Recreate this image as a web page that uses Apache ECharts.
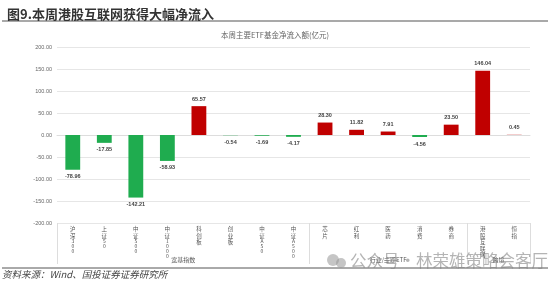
<!DOCTYPE html>
<html><head><meta charset="utf-8">
<script src="https://cdn.jsdelivr.net/npm/echarts@6/dist/echarts.min.js"></script>
<style>html,body{margin:0;padding:0;background:#fff;}#c{width:550px;height:283px;}</style>
</head><body><div id="c"></div>
<script>
const categories = ['沪深300','上证50','中证500','中证1000','科创板','创业板','中证A50','中证A500','芯片','红利','医药','消费','券商','港股互联网','恒指'];
const values = [-78.96,-17.85,-142.21,-58.93,65.57,-0.54,-1.69,-4.17,28.30,11.82,7.91,-4.56,23.50,146.04,0.45];
const groupNames = ['宽基指数','行业/主题ETF','跨境'];
const groupSizes = [8,5,2];
const yTicks = {min:-200,max:200,interval:50};

const chart = echarts.init(document.getElementById('c'));
function stack(s){
  return s.split('').map(ch => /[0-9A-Za-z]/.test(ch) ? '{d|'+ch+'}' : '{c|'+ch+'}').join('\n');
}
chart.setOption({
  animation:false,
  title:[
    {text:'图9.本周港股互联网获得大幅净流入',left:2,top:3,textStyle:{fontSize:13,fontWeight:'bold',color:'#333',fontFamily:'Noto Sans CJK SC'}},
    {text:'本周主要ETF基金净流入额(亿元)',left:'center',top:26,textStyle:{fontSize:7.5,fontWeight:'normal',color:'#666',fontFamily:'Noto Sans CJK SC'}},
    {text:'资料来源：Wind、国投证券证券研究所',left:2,top:270,padding:0,textStyle:{fontSize:9.5,fontWeight:'normal',fontStyle:'italic',color:'#444',fontFamily:'Noto Sans CJK SC'}}
  ],
  grid:{left:57,right:20,top:47,bottom:60},
  xAxis:{type:'category',data:categories,
    axisLine:{lineStyle:{color:'#ddd'}},axisTick:{show:false},
    axisLabel:{interval:0,margin:3,verticalAlign:'top',formatter:v=>stack(v),
      rich:{c:{fontSize:5.5,lineHeight:6.5,color:'#555',fontFamily:'Noto Sans CJK SC'},d:{fontSize:5,lineHeight:5,color:'#555',fontFamily:'Noto Sans CJK SC'}}}},
  yAxis:{type:'value',min:yTicks.min,max:yTicks.max,interval:yTicks.interval,
    axisLine:{show:false},axisTick:{show:false},
    axisLabel:{fontSize:5.5,color:'#666',margin:5,formatter:v=>v.toFixed(2)},
    splitLine:{lineStyle:{color:'#e6e6e6'}}},
  series:[{type:'bar',barWidth:'47%',
    data:values.map(v=>({value:v,itemStyle:{color:v>=0?'#c00000':'#1fac4f'},label:{position:v>=0?'top':'bottom',distance:4}})),
    label:{show:true,fontSize:5.5,fontWeight:'bold',color:'#444',formatter:p=>p.value.toFixed(2)}
  }]
});

function drawExtras(){
  const y0 = chart.convertToPixel({yAxisIndex:0},yTicks.min);
  const step = chart.convertToPixel({xAxisIndex:0},1)-chart.convertToPixel({xAxisIndex:0},0);
  const x0 = chart.convertToPixel({xAxisIndex:0},0)-step/2;
  const g = [];
  let idx=0;
  const bounds=[0];
  groupSizes.forEach(n=>{idx+=n;bounds.push(idx);});
  bounds.forEach(b=>{
    const x=Math.round(x0+b*step)+0.5;
    g.push({type:'line',shape:{x1:x,y1:y0,x2:x,y2:y0+41},style:{stroke:'#ddd',lineWidth:1}});
  });
  groupNames.forEach((name,i)=>{
    const cx = x0+(bounds[i]+bounds[i+1])/2*step;
    g.push({type:'text',x:cx,y:y0+37,style:{text:name,fontSize:6,fill:'#555',align:'center',verticalAlign:'middle',fontFamily:'Noto Sans CJK SC'}});
  });
  g.push({type:'line',shape:{x1:2,y1:21,x2:548,y2:21},style:{stroke:'#555',lineWidth:1.2}});
  g.push({type:'line',shape:{x1:2,y1:268,x2:548,y2:268},style:{stroke:'#555',lineWidth:1}});
  g.push({type:'circle',shape:{cx:333,cy:260,r:6},style:{fill:'rgba(150,150,150,0.55)'}});
  g.push({type:'circle',shape:{cx:341,cy:263,r:5},style:{fill:'rgba(150,150,150,0.55)'}});
  g.push({type:'text',x:350,y:261,style:{text:'公众号·林荣雄策略会客厅',fontSize:16.5,fill:'rgba(130,130,130,0.6)',verticalAlign:'middle',fontFamily:'Noto Sans CJK SC'}});
  chart.setOption({graphic:g});
}
drawExtras();
</script></body></html>
